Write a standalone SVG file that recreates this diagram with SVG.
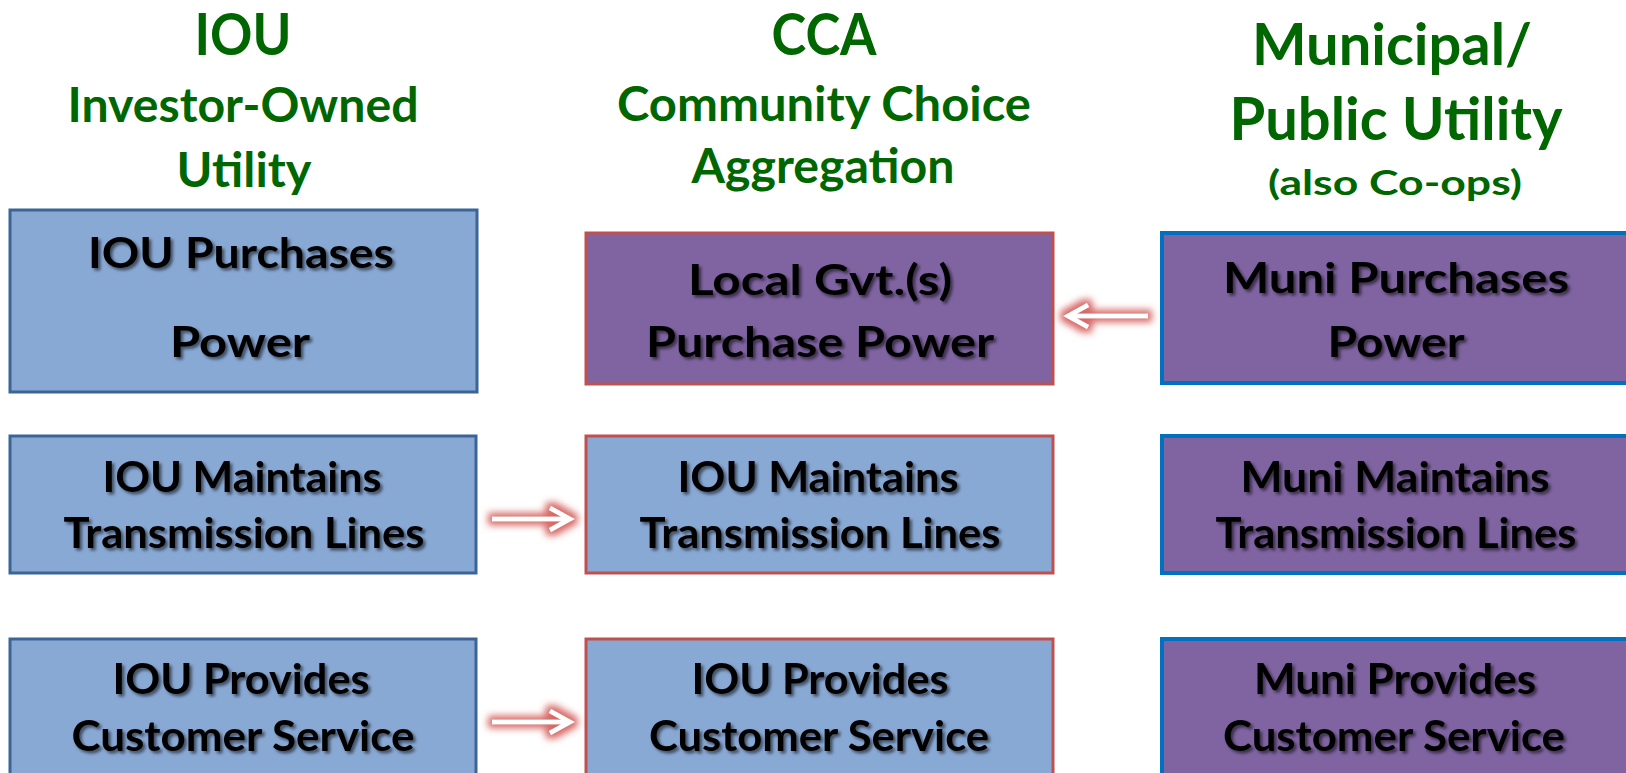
<svg xmlns="http://www.w3.org/2000/svg" width="1626" height="773" viewBox="0 0 1626 773">
<defs>
<style>
.hdr{font-family:Lato,"Open Sans","Liberation Sans",sans-serif;font-weight:bold;fill:#006600;text-anchor:middle}
.lbl{font-family:Lato,"Open Sans","Liberation Sans",sans-serif;font-weight:bold;fill:#000;text-anchor:middle;font-size:42px}
.iou{fill:#89A9D5;stroke:#3B6597;stroke-width:3}
.cca{stroke:#C0504D;stroke-width:3}
.muni{fill:#8064A2;stroke:#0070C0;stroke-width:4}
.blue{fill:#89A9D5}
.purple{fill:#8064A2}
.arrow{fill:none;stroke:#fff;stroke-width:4.5;stroke-linejoin:miter}
</style>
<filter id="ts" x="-5%" y="-30%" width="115%" height="170%">
<feDropShadow dx="2.5" dy="2.5" stdDeviation="1.6" flood-color="#000" flood-opacity="0.55"/>
</filter>
<filter id="glow" x="-40%" y="-100%" width="180%" height="300%">
<feMorphology in="SourceAlpha" operator="dilate" radius="4" result="d"/>
<feGaussianBlur in="d" stdDeviation="3.5" result="b"/>
<feFlood flood-color="#D0504D" flood-opacity="0.85"/>
<feComposite in2="b" operator="in" result="g"/>
<feMerge><feMergeNode in="g"/><feMergeNode in="SourceGraphic"/></feMerge>
</filter>
</defs>
<rect width="1626" height="773" fill="#fff"/>

<g id="headers">
<text class="hdr" x="243" y="55" font-size="58" textLength="97" lengthAdjust="spacingAndGlyphs">IOU</text>
<text class="hdr" x="243" y="122" font-size="47" textLength="351" lengthAdjust="spacingAndGlyphs">Investor-Owned</text>
<text class="hdr" x="244" y="187" font-size="47" textLength="135" lengthAdjust="spacingAndGlyphs">Utility</text>
<text class="hdr" x="824" y="55" font-size="58" textLength="105" lengthAdjust="spacingAndGlyphs">CCA</text>
<text class="hdr" x="824" y="121" font-size="47" textLength="414" lengthAdjust="spacingAndGlyphs">Community Choice</text>
<text class="hdr" x="823" y="183" font-size="47" textLength="263" lengthAdjust="spacingAndGlyphs">Aggregation</text>
<text class="hdr" x="1392" y="65" font-size="58" textLength="280" lengthAdjust="spacingAndGlyphs">Municipal/</text>
<text class="hdr" x="1396" y="140" font-size="59" textLength="333" lengthAdjust="spacingAndGlyphs">Public Utility</text>
<text class="hdr" x="1395" y="195" font-size="35" textLength="254" lengthAdjust="spacingAndGlyphs">(also Co-ops)</text>
</g>

<g id="iou-purchases">
<rect class="iou" x="10" y="210" width="467" height="182"/>
<g filter="url(#ts)">
<text class="lbl" x="241" y="268" textLength="306" lengthAdjust="spacingAndGlyphs">IOU Purchases</text>
<text class="lbl" x="240" y="357" textLength="140" lengthAdjust="spacingAndGlyphs">Power</text>
</g>
</g>

<g id="cca-purchase">
<rect class="cca purple" x="586" y="233" width="467" height="151"/>
<g filter="url(#ts)">
<text class="lbl" x="820" y="295" textLength="264" lengthAdjust="spacingAndGlyphs">Local Gvt.(s)</text>
<text class="lbl" x="820" y="357" textLength="348" lengthAdjust="spacingAndGlyphs">Purchase Power</text>
</g>
</g>

<g id="muni-purchases">
<rect class="muni" x="1162" y="233" width="470" height="150"/>
<g filter="url(#ts)">
<text class="lbl" x="1396" y="293" textLength="346" lengthAdjust="spacingAndGlyphs">Muni Purchases</text>
<text class="lbl" x="1396" y="357" textLength="137" lengthAdjust="spacingAndGlyphs">Power</text>
</g>
</g>

<g id="iou-maintains">
<rect class="iou" x="10" y="436" width="466" height="137"/>
<g filter="url(#ts)">
<text class="lbl" x="242" y="492" textLength="279" lengthAdjust="spacingAndGlyphs">IOU Maintains</text>
<text class="lbl" x="244" y="548" textLength="361" lengthAdjust="spacingAndGlyphs">Transmission Lines</text>
</g>
</g>

<g id="cca-maintains">
<rect class="cca blue" x="586" y="436" width="467" height="137"/>
<g filter="url(#ts)">
<text class="lbl" x="818" y="492" textLength="281" lengthAdjust="spacingAndGlyphs">IOU Maintains</text>
<text class="lbl" x="820" y="548" textLength="361" lengthAdjust="spacingAndGlyphs">Transmission Lines</text>
</g>
</g>

<g id="muni-maintains">
<rect class="muni" x="1162" y="436" width="470" height="137"/>
<g filter="url(#ts)">
<text class="lbl" x="1395" y="492" textLength="309" lengthAdjust="spacingAndGlyphs">Muni Maintains</text>
<text class="lbl" x="1396" y="548" textLength="361" lengthAdjust="spacingAndGlyphs">Transmission Lines</text>
</g>
</g>

<g id="iou-provides">
<rect class="iou" x="10" y="639" width="466" height="160"/>
<g filter="url(#ts)">
<text class="lbl" x="241" y="694" textLength="257" lengthAdjust="spacingAndGlyphs">IOU Provides</text>
<text class="lbl" x="243" y="751" textLength="343" lengthAdjust="spacingAndGlyphs">Customer Service</text>
</g>
</g>

<g id="cca-provides">
<rect class="cca blue" x="586" y="639" width="467" height="160"/>
<g filter="url(#ts)">
<text class="lbl" x="820" y="694" textLength="257" lengthAdjust="spacingAndGlyphs">IOU Provides</text>
<text class="lbl" x="819" y="751" textLength="340" lengthAdjust="spacingAndGlyphs">Customer Service</text>
</g>
</g>

<g id="muni-provides">
<rect class="muni" x="1162" y="639" width="470" height="160"/>
<g filter="url(#ts)">
<text class="lbl" x="1395" y="694" textLength="282" lengthAdjust="spacingAndGlyphs">Muni Provides</text>
<text class="lbl" x="1394" y="751" textLength="342" lengthAdjust="spacingAndGlyphs">Customer Service</text>
</g>
</g>

<g id="connectors" filter="url(#glow)">
<path class="arrow" d="M1148,316 H1070 M1088,305 L1068,316 L1088,327"/>
<path class="arrow" d="M492,519 H568 M550,508 L570,519 L550,530"/>
<path class="arrow" d="M492,722 H568 M550,711 L570,722 L550,733"/>
</g>
</svg>
